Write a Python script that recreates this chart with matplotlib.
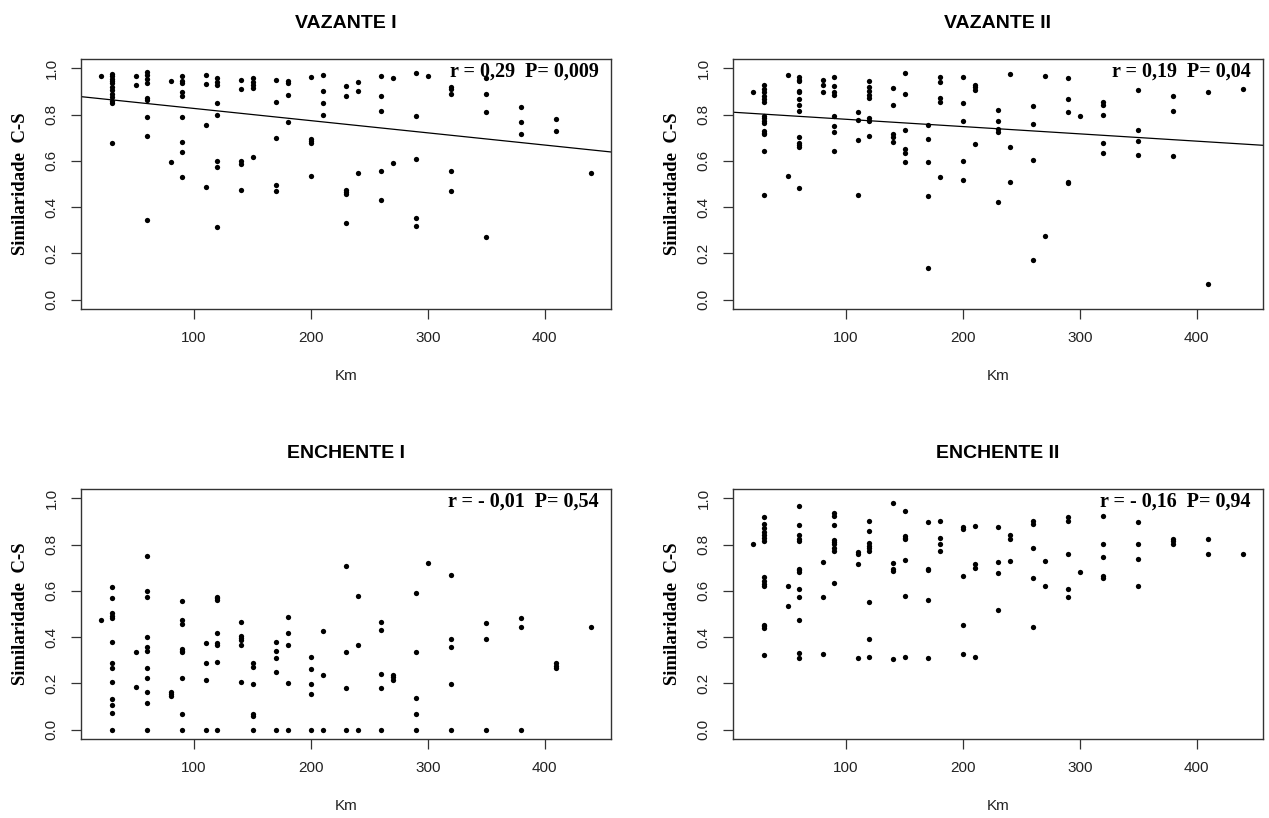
import numpy as np
import matplotlib
matplotlib.use("Agg")
import matplotlib.pyplot as plt

# sampling sites (km) shared by the four panels
km = [20, 30, 50, 60, 80, 90, 110, 120, 140, 150, 170, 180, 200, 210,
      230, 240, 260, 270, 290, 300, 320, 350, 380, 410, 440]

# similarity values per site, one list per km above
vaz1 = [[0.967],
        [0.974, 0.965, 0.955, 0.945, 0.935, 0.92, 0.905, 0.89, 0.875, 0.86, 0.848, 0.675],
        [0.967, 0.928],
        [0.983, 0.971, 0.952, 0.938, 0.873, 0.863, 0.788, 0.708, 0.345],
        [0.946, 0.595],
        [0.967, 0.946, 0.938, 0.899, 0.881, 0.788, 0.682, 0.638, 0.528],
        [0.971, 0.932, 0.756, 0.489],
        [0.957, 0.942, 0.928, 0.848, 0.799, 0.601, 0.575, 0.316],
        [0.949, 0.910, 0.598, 0.588, 0.472],
        [0.957, 0.942, 0.928, 0.916, 0.617],
        [0.949, 0.853, 0.698, 0.494, 0.468],
        [0.945, 0.938, 0.886, 0.769],
        [0.961, 0.694, 0.686, 0.679, 0.536],
        [0.971, 0.902, 0.848, 0.799],
        [0.923, 0.881, 0.475, 0.465, 0.455, 0.332],
        [0.942, 0.902, 0.547],
        [0.967, 0.880, 0.815, 0.555, 0.432],
        [0.957, 0.591],
        [0.978, 0.795, 0.607, 0.352, 0.318],
        [0.967],
        [0.920, 0.909, 0.887, 0.555, 0.469],
        [0.957, 0.887, 0.812, 0.270],
        [0.831, 0.769, 0.714],
        [0.779, 0.730],
        [0.547]]

vaz2 = [[0.898],
        [0.927, 0.910, 0.896, 0.881, 0.867, 0.852, 0.794, 0.783, 0.772, 0.762, 0.729, 0.722, 0.714, 0.642, 0.453],
        [0.971, 0.536],
        [0.961, 0.950, 0.943, 0.903, 0.896, 0.867, 0.840, 0.816, 0.703, 0.678, 0.667, 0.659, 0.483],
        [0.950, 0.927, 0.896],
        [0.961, 0.922, 0.896, 0.885, 0.794, 0.750, 0.724, 0.642],
        [0.813, 0.777, 0.690, 0.453],
        [0.943, 0.917, 0.903, 0.884, 0.870, 0.787, 0.772, 0.707],
        [0.914, 0.840, 0.714, 0.704, 0.683],
        [0.980, 0.888, 0.733, 0.649, 0.632, 0.594],
        [0.755, 0.696, 0.594, 0.449, 0.137],
        [0.961, 0.939, 0.870, 0.852, 0.529],
        [0.963, 0.848, 0.772, 0.598, 0.519],
        [0.927, 0.917, 0.907, 0.674],
        [0.819, 0.772, 0.736, 0.724, 0.422],
        [0.975, 0.659, 0.509],
        [0.835, 0.761, 0.603, 0.171],
        [0.965, 0.277],
        [0.958, 0.867, 0.809, 0.509, 0.504],
        [0.794],
        [0.855, 0.840, 0.798, 0.678, 0.632],
        [0.906, 0.733, 0.685, 0.624],
        [0.878, 0.814, 0.619],
        [0.896, 0.070],
        [0.910]]

enc1 = [[0.475],
        [0.616, 0.568, 0.504, 0.493, 0.481, 0.378, 0.290, 0.265, 0.207, 0.132, 0.106, 0.074, 0.0],
        [0.336, 0.186],
        [0.749, 0.600, 0.572, 0.401, 0.359, 0.342, 0.265, 0.223, 0.165, 0.116, 0.0],
        [0.161, 0.154, 0.146],
        [0.557, 0.472, 0.458, 0.348, 0.342, 0.336, 0.223, 0.068, 0.0],
        [0.374, 0.288, 0.213, 0.0],
        [0.574, 0.567, 0.559, 0.417, 0.374, 0.367, 0.293, 0.0],
        [0.464, 0.403, 0.396, 0.388, 0.364, 0.207],
        [0.290, 0.272, 0.197, 0.070, 0.061, 0.0],
        [0.378, 0.342, 0.309, 0.251, 0.0],
        [0.487, 0.416, 0.364, 0.203, 0.0],
        [0.316, 0.261, 0.197, 0.154, 0.0],
        [0.428, 0.235, 0.0],
        [0.706, 0.336, 0.181, 0.0],
        [0.578, 0.364, 0.0],
        [0.465, 0.432, 0.241, 0.181, 0.0],
        [0.236, 0.226, 0.214],
        [0.590, 0.336, 0.138, 0.070, 0.0],
        [0.719],
        [0.670, 0.393, 0.357, 0.197, 0.0],
        [0.459, 0.391, 0.0],
        [0.483, 0.445, 0.0],
        [0.290, 0.275, 0.265],
        [0.445]]

enc2 = [[0.804],
        [0.917, 0.888, 0.870, 0.855, 0.841, 0.830, 0.816, 0.661, 0.642, 0.628, 0.620, 0.454, 0.446, 0.439, 0.323],
        [0.620, 0.536],
        [0.965, 0.884, 0.841, 0.823, 0.816, 0.696, 0.690, 0.683, 0.610, 0.574, 0.475, 0.333, 0.309],
        [0.723, 0.572, 0.326],
        [0.936, 0.922, 0.884, 0.820, 0.812, 0.801, 0.783, 0.772, 0.632],
        [0.768, 0.761, 0.717, 0.309],
        [0.900, 0.857, 0.806, 0.794, 0.783, 0.772, 0.551, 0.391, 0.316],
        [0.980, 0.719, 0.696, 0.686, 0.304],
        [0.943, 0.835, 0.828, 0.823, 0.733, 0.577, 0.316],
        [0.896, 0.696, 0.690, 0.562, 0.309],
        [0.900, 0.830, 0.804, 0.772],
        [0.874, 0.867, 0.664, 0.454, 0.326],
        [0.878, 0.717, 0.700, 0.316],
        [0.874, 0.725, 0.678, 0.519],
        [0.841, 0.823, 0.729],
        [0.903, 0.888, 0.783, 0.654, 0.443],
        [0.729, 0.620],
        [0.917, 0.903, 0.761, 0.610, 0.574],
        [0.681],
        [0.925, 0.804, 0.748, 0.664, 0.657],
        [0.896, 0.804, 0.739, 0.620],
        [0.826, 0.816, 0.801],
        [0.826, 0.761],
        [0.761]]

titles = ["VAZANTE I", "VAZANTE II", "ENCHENTE I", "ENCHENTE II"]
stats = ["r = 0,29  P= 0,009", "r = 0,19  P= 0,04",
         "r = - 0,01  P= 0,54", "r = - 0,16  P= 0,94"]
# fitted line (intercept, slope); none on the bottom ones
fits = [(0.879, -0.000527), (0.811, -0.000315), None, None]

sans = "Liberation Sans"
serif = "Liberation Serif"


def flatten(sites, values):
    x = []
    y = []
    for k, vals in zip(sites, values):
        x += [k] * len(vals)
        y += vals
    return np.array(x), np.array(y)


if __name__ == "__main__":
    fig, axs = plt.subplots(2, 2, figsize=(12.69, 8.18), dpi=100)
    fig.subplots_adjust(left=0.0638, right=0.9953, top=0.9279, bottom=0.0966,
                        wspace=0.230, hspace=0.72)

    for ax, vals, title, stat, fit in zip(axs.flat, [vaz1, vaz2, enc1, enc2],
                                          titles, stats, fits):
        x, y = flatten(km, vals)
        ax.plot(x, y, 'o', color='black', markersize=3.8, markeredgewidth=0)
        if fit is not None:
            ax.axline((0, fit[0]), slope=fit[1], color='black', lw=0.9)

        ax.set_xlim(3.2, 456.8)
        ax.set_ylim(-0.04, 1.04)
        ax.set_xticks([100, 200, 300, 400])
        ax.set_yticks([0.0, 0.2, 0.4, 0.6, 0.8, 1.0])
        ax.set_yticklabels(["0.0", "0.2", "0.4", "0.6", "0.8", "1.0"],
                           rotation=90, va='center')
        ax.tick_params(length=7, width=0.9, color='#333333', pad=9,
                       labelsize=11, labelcolor='#222222')
        for lab in ax.get_xticklabels() + ax.get_yticklabels():
            lab.set_family(sans)
        for sp in ax.spines.values():
            sp.set_color('#333333')
            sp.set_linewidth(1.0)

        ax.set_title(title, family=sans, fontweight='bold', fontsize=14, pad=22)
        ax.set_xlabel("Km", family=sans, fontsize=11, labelpad=17, color='#222222')
        ax.set_ylabel("Similaridade  C-S", family=serif, fontweight='bold',
                      fontsize=13.5, labelpad=11)
        ax.text(0.977, 0.928, stat, transform=ax.transAxes, ha='right',
                va='baseline', family=serif, fontweight='bold', fontsize=14.5)

    plt.savefig("out.png", dpi=100)
